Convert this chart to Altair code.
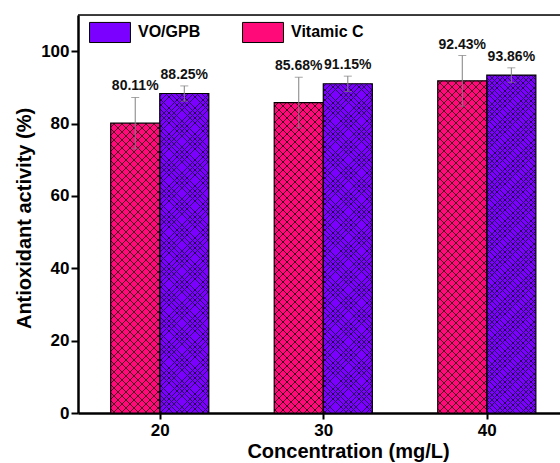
import altair as alt
import pandas as pd

# ---------------- data ----------------
concentrations = [20, 30, 40]
series_order = ["VO/GPB", "Vitamic C"]
vitc_values = [80.1, 85.8, 91.8]
vitc_errors = [7.1, 7.0, 7.0]
vitc_labels = ["80.11%", "85.68%", "92.43%"]
vogpb_values = [88.3, 91.0, 93.4]
vogpb_errors = [2.1, 2.1, 2.0]
vogpb_labels = ["88.25%", "91.15%", "93.86%"]
y_ticks = [0, 20, 40, 60, 80, 100]

rows = []
for i, c in enumerate(concentrations):
    rows.append(dict(conc=c, series="Vitamic C", value=vitc_values[i],
                     err=vitc_errors[i], label=vitc_labels[i]))
    rows.append(dict(conc=c, series="VO/GPB", value=vogpb_values[i],
                     err=vogpb_errors[i], label=vogpb_labels[i]))
df = pd.DataFrame(rows)
df["key"] = df["series"] + "_" + df["conc"].astype(str)

# ---------------- style ----------------
FONT = "Liberation Sans"
W, H = 520, 398
XMIN, XMAX = 15, 46.80
YMAX = 110
BAR = 3
PX = W / (XMAX - XMIN)
PY = H / YMAX
PINK = "#FF0A78"
PURPLE = "#7B00FF"
STYLE = {
    "Vitamic C": dict(line="#4a0020", period=8.0, lw=1.0),
    "VO/GPB": dict(line="#2a0058", period=5.2, lw=0.85),
}
CLEAR = "rgba(0,0,0,0)"


def hatch(w, h, period, lw, color, flip):
    total = w + h
    mu = total / (w * w + h * h)
    stops = [{"offset": 0, "color": CLEAR}]
    c = period / 2
    while c < total:
        a = round(max(0.0, (c - lw / 2) / total), 5)
        b = round(min(1.0, (c + lw / 2) / total), 5)
        stops += [{"offset": a, "color": CLEAR}, {"offset": a, "color": color},
                  {"offset": b, "color": color}, {"offset": b, "color": CLEAR}]
        c += period
    stops.append({"offset": 1, "color": CLEAR})
    if flip:
        return {"gradient": "linear", "x1": 0, "y1": 1, "x2": round(w * mu, 5),
                "y2": round(1 - h * mu, 5), "stops": stops}
    return {"gradient": "linear", "x1": 0, "y1": 0, "x2": round(w * mu, 5),
            "y2": round(h * mu, 5), "stops": stops}


xaxis = alt.Axis(title="Concentration (mg/L)", values=concentrations, format="d",
                 grid=False, domainColor="black", domainWidth=2.5,
                 tickColor="black", tickWidth=2, tickSize=6,
                 labelFont=FONT, labelFontSize=17, labelFontWeight="bold",
                 labelColor="black", labelPadding=3, labelFlush=False,
                 titleFont=FONT, titleFontSize=20, titleFontWeight="bold",
                 titleColor="black", titleX=270, titleY=38,
                 titleBaseline="middle", titleAlign="center")
yaxis = alt.Axis(title="Antioxidant activity (%)", values=y_ticks, grid=False,
                 domainColor="black", domainWidth=2.5,
                 tickColor="black", tickWidth=2, tickSize=7,
                 labelFont=FONT, labelFontSize=17, labelFontWeight="bold",
                 labelColor="black", labelPadding=2,
                 titleFont=FONT, titleFontSize=20, titleFontWeight="bold",
                 titleColor="black", titleX=-54, titleY=203, titleAngle=270,
                 titleBaseline="middle", titleAlign="center")
xscale = alt.Scale(domain=[XMIN, XMAX], nice=False, zero=False)
yscale = alt.Scale(domain=[0, YMAX], nice=False)

base = alt.Chart(df).transform_calculate(
    x0=f"datum.series == 'VO/GPB' ? datum.conc : datum.conc - {BAR}",
    x1=f"datum.series == 'VO/GPB' ? datum.conc + {BAR} : datum.conc",
    xc=f"datum.series == 'VO/GPB' ? datum.conc + {BAR / 2} : datum.conc - {BAR / 2}",
    top="datum.value + datum.err",
    bot="datum.value - datum.err",
    zero="0",
)

X0 = alt.X("x0:Q", scale=xscale, axis=xaxis)
XC = alt.X("xc:Q", scale=xscale, axis=xaxis)
YV = alt.Y("value:Q", scale=yscale, axis=yaxis)

bars = base.mark_rect().encode(
    x=X0, x2="x1:Q", y=YV, y2="zero:Q",
    color=alt.Color("series:N",
                    scale=alt.Scale(domain=series_order, range=[PURPLE, PINK]),
                    legend=alt.Legend(title=None, orient="none", legendX=11,
                                      legendY=-4, direction="horizontal",
                                      symbolType="M-1,-0.49H1V0.49H-1Z",
                                      symbolSize=1681, symbolStrokeColor="black",
                                      symbolStrokeWidth=1, symbolOpacity=1,
                                      labelFont=FONT, labelFontSize=16,
                                      labelFontWeight="bold", labelColor="black",
                                      labelOffset=7, columnPadding=39, padding=0)),
)

layers = [bars]
for _, r in df.iterrows():
    st = STYLE[r["series"]]
    w = BAR * PX
    h = r["value"] * PY
    for flip in (False, True):
        g = hatch(w, h, st["period"], st["lw"], st["line"], flip)
        layers.append(
            base.transform_filter(alt.datum.key == r["key"]).mark_rect(fill=g).encode(
                x=X0, x2="x1:Q", y=YV, y2="zero:Q")
        )

outline = base.mark_rect(fillOpacity=0, stroke="black", strokeWidth=1.2).encode(
    x=X0, x2="x1:Q", y=YV, y2="zero:Q")

# top frame line across the full plot width
frame_top = alt.Chart(pd.DataFrame({"f": [0]})).mark_rule(
    color="black", strokeWidth=1.5).encode(y=alt.value(0))

ERR = "#808080"
rule = base.mark_rule(color=ERR, strokeWidth=1).encode(
    x=XC, y=alt.Y("bot:Q", scale=yscale, axis=yaxis), y2="top:Q")
cap_top = base.mark_tick(orient="horizontal", size=8, thickness=1, color=ERR).encode(
    x=XC, y=alt.Y("top:Q", scale=yscale, axis=yaxis))
cap_bot = base.mark_tick(orient="horizontal", size=8, thickness=1, color=ERR).encode(
    x=XC, y=alt.Y("bot:Q", scale=yscale, axis=yaxis))
labels = base.mark_text(dy=-11, font=FONT, fontSize=14, fontWeight="bold",
                        color="#111111", baseline="middle").encode(
    x=XC, y=alt.Y("top:Q", scale=yscale, axis=yaxis), text="label:N")

layers += [outline, rule, cap_top, cap_bot, labels, frame_top]

# the reference is cropped on the right: the plot runs past the picture's edge
chart = alt.layer(*layers).properties(
    width=W, height=H,
    autosize=alt.AutoSizeParams(type="none"),
    padding={"left": 78, "top": 15, "right": -38, "bottom": 50},
).configure_view(stroke="transparent", strokeWidth=0).configure(background="white")

chart.save("out.html", embed_options={"renderer": "svg", "actions": False})
